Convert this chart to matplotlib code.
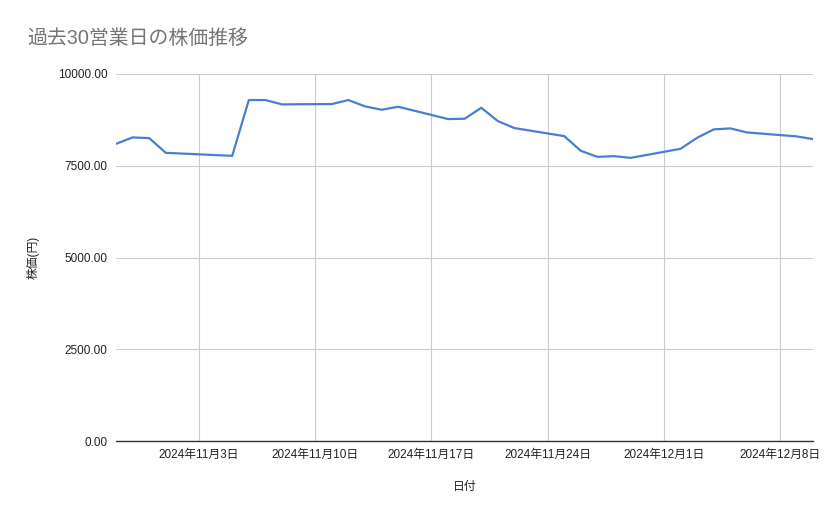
import matplotlib
matplotlib.use("Agg")
import matplotlib.pyplot as plt
import datetime as dt

plt.rcParams['font.family'] = ['Liberation Sans', 'Noto Sans CJK JP', 'DejaVu Sans']

dates = ["2024-10-29", "2024-10-30", "2024-10-31", "2024-11-01",
         "2024-11-05", "2024-11-06", "2024-11-07", "2024-11-08",
         "2024-11-11", "2024-11-12", "2024-11-13", "2024-11-14", "2024-11-15",
         "2024-11-18", "2024-11-19", "2024-11-20", "2024-11-21", "2024-11-22",
         "2024-11-25", "2024-11-26", "2024-11-27", "2024-11-28", "2024-11-29",
         "2024-12-02", "2024-12-03", "2024-12-04", "2024-12-05", "2024-12-06",
         "2024-12-09", "2024-12-10"]
prices = [8097, 8272, 8253, 7852,
          7770, 9290, 9290, 9172,
          9181, 9290, 9118, 9026, 9108,
          8772, 8780, 9080, 8717, 8526,
          8307, 7906, 7742, 7761, 7715,
          7961, 8261, 8490, 8518, 8408,
          8300, 8225]
tick_dates = ["2024-11-03", "2024-11-10", "2024-11-17", "2024-11-24", "2024-12-01", "2024-12-08"]
y_ticks = [0, 2500, 5000, 7500, 10000]

title = "過去30営業日の株価推移"
xlabel = "日付"
ylabel = "株価(円)"

x = [dt.datetime.strptime(d, "%Y-%m-%d") for d in dates]
xt = [dt.datetime.strptime(d, "%Y-%m-%d") for d in tick_dates]

fig = plt.figure(figsize=(8.39, 5.19), dpi=100)
ax = fig.add_axes([116/839, 1-441/519, (813.3-116)/839, (441-74)/519])

ax.plot(x, prices, color="#4a7fd0", linewidth=1.6, solid_joinstyle="round")

ax.set_xlim(dt.datetime(2024, 10, 29), dt.datetime(2024, 12, 10))
ax.set_ylim(0, 10000)
ax.set_xticks(xt)
ax.set_xticklabels([f"{d.year}年{d.month}月{d.day}日" for d in xt], fontsize=8.5, color="#222222")
ax.set_yticks(y_ticks)
ax.set_yticklabels([f"{v:.2f}" for v in y_ticks], fontsize=8.5, color="#222222")
ax.grid(True, color="#cccccc", linewidth=0.8)
ax.set_axisbelow(True)
for s in ["top", "right", "left"]:
    ax.spines[s].set_visible(False)
ax.spines["bottom"].set_color("#333333")
ax.spines["bottom"].set_linewidth(1.0)
ax.tick_params(axis="both", length=0, pad=6)

ax.set_xlabel(xlabel, fontsize=8.5, color="#222222", labelpad=14)
ax.set_ylabel(ylabel, fontsize=8.5, color="#222222", labelpad=13)

fig.text(27/839, 1-38/519, title, fontsize=14.3, color="#757575", va="center", ha="left")

fig.savefig("out.png", dpi=100)
